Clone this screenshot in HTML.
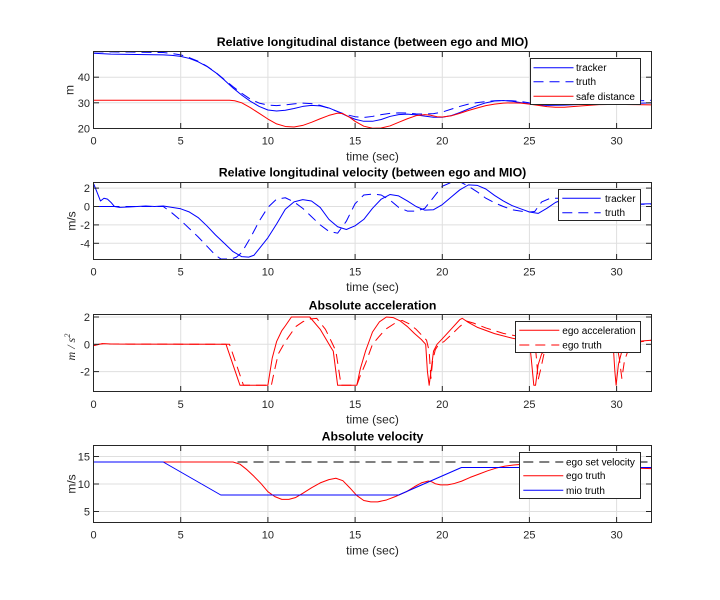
<!DOCTYPE html>
<html><head><meta charset="utf-8"><style>
html,body{margin:0;padding:0;background:#fff;}
svg{display:block;}
text{font-family:"Liberation Sans",Arial,sans-serif;}
.tk{font-size:11px;fill:#262626;}
.xl{font-size:12px;fill:#262626;}
.ti{font-size:12.3px;font-weight:bold;fill:#000;}
.lg{font-size:10px;fill:#000;}
.d{fill:none;stroke-width:1;vector-effect:non-scaling-stroke;stroke-linejoin:round;}
.grid line{stroke:#dfdfdf;stroke-width:1;}
.box{fill:none;stroke:#262626;stroke-width:1;}
.tick line{stroke:#262626;stroke-width:1;}
</style></head><body>
<svg width="720" height="600" viewBox="0 0 720 600" xmlns="http://www.w3.org/2000/svg">
<rect width="720" height="600" fill="#fff"/>
<defs>
<clipPath id="c1"><rect x="93.5" y="51.5" width="558" height="77"/></clipPath>
<clipPath id="c2"><rect x="93.5" y="182.5" width="558" height="77"/></clipPath>
<clipPath id="c3"><rect x="93.5" y="314.5" width="558" height="77"/></clipPath>
<clipPath id="c4"><rect x="93.5" y="445.5" width="558" height="77"/></clipPath>
</defs>

<!-- ============ PLOT 1 ============ -->
<g class="grid">
<line x1="180.7" y1="51.5" x2="180.7" y2="128.5"/><line x1="267.9" y1="51.5" x2="267.9" y2="128.5"/><line x1="355.1" y1="51.5" x2="355.1" y2="128.5"/><line x1="442.3" y1="51.5" x2="442.3" y2="128.5"/><line x1="529.4" y1="51.5" x2="529.4" y2="128.5"/><line x1="616.6" y1="51.5" x2="616.6" y2="128.5"/>
<line x1="93.5" y1="102.8" x2="651.5" y2="102.8"/><line x1="93.5" y1="77.2" x2="651.5" y2="77.2"/>
</g>
<g clip-path="url(#c1)">
<g transform="matrix(17.4375 0 0 -2.5667 93.5 179.833)">
<polyline class="d" stroke="#0000ff" points="0,49.3 1,49.0 2,48.9 3,48.8 4,48.7 4.5,48.5 5,48.1 5.5,47.3 6,46.0 6.5,44.2 7,41.8 7.5,38.9 8,35.8 8.5,33.0 9,30.6 9.5,28.6 10,27.2 10.5,26.8 11,27.1 11.5,27.8 12,28.6 12.5,29.0 13,28.8 13.5,28.0 14,26.6 14.5,25.0 15,23.6 15.5,22.8 16,22.8 16.5,23.5 17,24.7 17.5,25.4 18,25.6 18.5,25.3 19,24.8 19.5,24.4 20,24.4 20.5,25.0 21,26.2 21.5,27.6 22,28.9 22.5,30.0 23,30.7 23.5,30.9 24,30.6 24.5,30.1 25,29.6 25.5,29.2 26,29.0 27,29.1 28,29.4 29,29.6 30,29.7 31,29.8 32,30.0"/>
<polyline class="d" stroke="#0000ff" stroke-dasharray="10 6" points="0,49.9 2,49.8 4,49.6 4.5,49.2 5,48.7 5.5,47.6 6,46.2 6.5,44.3 7,41.9 7.5,39.1 8,36.3 8.5,33.7 9,31.4 9.5,29.9 10,29.1 10.5,28.9 11,29.2 11.5,29.6 12,29.9 12.5,29.7 13,29.0 13.5,27.9 14,26.6 14.5,25.4 15,24.6 15.5,24.3 16,24.7 16.5,25.4 17,25.9 17.5,26.1 18,26.0 18.5,25.7 19,25.6 19.5,25.8 20,26.4 20.5,27.5 21,28.6 21.5,29.5 22,30.1 22.5,30.5 23,30.8 23.5,30.9 24,30.8 24.5,30.5 25,30.0 25.5,29.6 26,29.4 27,29.4 28,29.7 29,30.1 30,30.4 31,30.7 32,31.0"/>
<polyline class="d" stroke="#ff0000" points="0,31.0 7.8,31.0 8.1,30.8 8.5,30.0 9,28.1 9.5,25.9 10,23.7 10.5,21.8 11,20.8 11.5,20.6 12,21.2 12.5,22.4 13,23.8 13.5,25.1 14,26.0 14.3,25.8 14.7,24.3 15,22.8 15.5,20.9 16,20.1 16.5,20.2 17,21.0 17.5,22.4 18,23.8 18.5,25.0 19,25.4 19.3,25.2 19.7,24.6 20,24.5 20.5,24.9 21,25.9 21.5,27.0 22,28.0 22.5,28.9 23,29.5 23.5,29.9 24,30.0 24.5,29.9 25,29.5 25.5,29.0 26,28.5 26.5,28.3 27,28.3 28,28.8 29,29.3 30,29.4 31,29.3 32,29.2"/>
</g></g>
<rect class="box" x="93.5" y="51.5" width="558" height="77"/>
<g class="tick">
<line x1="180.7" y1="128.5" x2="180.7" y2="123"/><line x1="267.9" y1="128.5" x2="267.9" y2="123"/><line x1="355.1" y1="128.5" x2="355.1" y2="123"/><line x1="442.3" y1="128.5" x2="442.3" y2="123"/><line x1="529.4" y1="128.5" x2="529.4" y2="123"/><line x1="616.6" y1="128.5" x2="616.6" y2="123"/>
<line x1="180.7" y1="51.5" x2="180.7" y2="57"/><line x1="267.9" y1="51.5" x2="267.9" y2="57"/><line x1="355.1" y1="51.5" x2="355.1" y2="57"/><line x1="442.3" y1="51.5" x2="442.3" y2="57"/><line x1="529.4" y1="51.5" x2="529.4" y2="57"/><line x1="616.6" y1="51.5" x2="616.6" y2="57"/>
<line x1="93.5" y1="102.8" x2="99" y2="102.8"/><line x1="93.5" y1="77.2" x2="99" y2="77.2"/>
<line x1="651.5" y1="102.8" x2="646" y2="102.8"/><line x1="651.5" y1="77.2" x2="646" y2="77.2"/>
</g>
<g class="tk" text-anchor="end">
<text x="90" y="132.5">20</text><text x="90" y="106.8">30</text><text x="90" y="81.2">40</text>
</g>
<g class="tk" text-anchor="middle">
<text x="93.5" y="144.3">0</text><text x="180.7" y="144.3">5</text><text x="267.9" y="144.3">10</text><text x="355.1" y="144.3">15</text><text x="442.3" y="144.3">20</text><text x="529.4" y="144.3">25</text><text x="616.6" y="144.3">30</text>
</g>
<text class="xl" x="372.5" y="160.5" text-anchor="middle">time (sec)</text>
<text class="xl" transform="translate(73.5,90) rotate(-90)" text-anchor="middle">m</text>
<text class="ti" x="372.5" y="46" text-anchor="middle">Relative longitudinal distance (between ego and MIO)</text>
<rect x="530.5" y="58.5" width="110" height="46" fill="#fff" stroke="#262626" stroke-width="1"/>
<line x1="533.5" y1="67.7" x2="573.5" y2="67.7" stroke="#0000ff" stroke-width="1"/>
<line x1="533.5" y1="81.7" x2="573.5" y2="81.7" stroke="#0000ff" stroke-width="1" stroke-dasharray="10 6"/>
<line x1="533.5" y1="96.3" x2="573.5" y2="96.3" stroke="#ff0000" stroke-width="1"/>
<text class="lg" x="576" y="71.2">tracker</text>
<text class="lg" x="576" y="85.2">truth</text>
<text class="lg" x="576" y="99.8">safe distance</text>

<!-- ============ PLOT 2 ============ -->
<g class="grid">
<line x1="180.7" y1="182.5" x2="180.7" y2="259.5"/><line x1="267.9" y1="182.5" x2="267.9" y2="259.5"/><line x1="355.1" y1="182.5" x2="355.1" y2="259.5"/><line x1="442.3" y1="182.5" x2="442.3" y2="259.5"/><line x1="529.4" y1="182.5" x2="529.4" y2="259.5"/><line x1="616.6" y1="182.5" x2="616.6" y2="259.5"/>
<line x1="93.5" y1="188.1" x2="651.5" y2="188.1"/><line x1="93.5" y1="206.5" x2="651.5" y2="206.5"/><line x1="93.5" y1="224.9" x2="651.5" y2="224.9"/><line x1="93.5" y1="243.3" x2="651.5" y2="243.3"/>
</g>
<g clip-path="url(#c2)">
<g transform="matrix(17.4375 0 0 -9.2 93.5 206.5)">
<polyline class="d" stroke="#0000ff" points="1.2,0 0,0 0,2.5 0.15,1.8 0.4,0.6 0.6,0.9 0.8,0.8 1.0,0.45 1.2,0.0 1.5,-0.1 2,-0.05 3,0.05 3.5,0.0 4,0.05 4.5,-0.1 5,-0.25 5.5,-0.6 6,-1.2 6.5,-2.1 7,-3.1 7.5,-4.0 8,-4.9 8.5,-5.45 8.9,-5.5 9.2,-5.3 9.5,-4.6 10,-3.4 10.5,-1.9 11,-0.3 11.5,0.5 12,0.75 12.5,0.6 13,-0.1 13.5,-1.4 14,-2.2 14.5,-2.5 15,-2.1 15.5,-1.4 16,-0.2 16.5,0.8 17,1.3 17.5,1.15 18,0.6 18.5,0.0 19,-0.4 19.5,-0.35 20,0.2 20.5,1.0 21,1.8 21.5,2.35 22,2.3 22.5,1.9 23,1.2 23.5,0.6 24,0.1 24.5,-0.25 25,-0.6 25.5,-0.75 26,-0.2 26.5,0.45 27,0.8 27.5,0.8 28,0.6 29,0.3 30,0.2 31,0.25 32,0.3"/>
<polyline class="d" stroke="#0000ff" stroke-dasharray="10 6" points="0,0 4,0 4.5,-0.7 5,-1.5 5.5,-2.4 6,-3.3 6.5,-4.3 7,-5.3 7.3,-5.7 7.9,-5.7 8.2,-5.5 8.5,-5.0 9,-3.4 9.5,-1.6 10,-0.1 10.5,0.8 11,0.95 11.5,0.5 12,-0.2 12.5,-1.1 13,-2.0 13.5,-2.7 14,-2.9 14.5,-1.6 15,0.3 15.5,1.25 16,1.35 16.5,1.25 17,0.7 17.5,-0.1 18,-0.5 18.5,-0.5 19,-0.2 19.5,1.0 20,2.2 20.5,2.6 21,2.7 21.5,2.2 22,1.6 22.5,0.9 23,0.4 23.5,0.0 24,-0.35 24.5,-0.5 25,-0.6 25.3,-0.55 25.7,0.5 26.2,0.9 26.8,0.9 27.5,0.6 28.5,0.3 30,0.2 32,0.25"/>
</g></g>
<rect class="box" x="93.5" y="182.5" width="558" height="77"/>
<g class="tick">
<line x1="180.7" y1="259.5" x2="180.7" y2="254"/><line x1="267.9" y1="259.5" x2="267.9" y2="254"/><line x1="355.1" y1="259.5" x2="355.1" y2="254"/><line x1="442.3" y1="259.5" x2="442.3" y2="254"/><line x1="529.4" y1="259.5" x2="529.4" y2="254"/><line x1="616.6" y1="259.5" x2="616.6" y2="254"/>
<line x1="180.7" y1="182.5" x2="180.7" y2="188"/><line x1="267.9" y1="182.5" x2="267.9" y2="188"/><line x1="355.1" y1="182.5" x2="355.1" y2="188"/><line x1="442.3" y1="182.5" x2="442.3" y2="188"/><line x1="529.4" y1="182.5" x2="529.4" y2="188"/><line x1="616.6" y1="182.5" x2="616.6" y2="188"/>
<line x1="93.5" y1="188.1" x2="99" y2="188.1"/><line x1="93.5" y1="206.5" x2="99" y2="206.5"/><line x1="93.5" y1="224.9" x2="99" y2="224.9"/><line x1="93.5" y1="243.3" x2="99" y2="243.3"/>
<line x1="651.5" y1="188.1" x2="646" y2="188.1"/><line x1="651.5" y1="206.5" x2="646" y2="206.5"/><line x1="651.5" y1="224.9" x2="646" y2="224.9"/><line x1="651.5" y1="243.3" x2="646" y2="243.3"/>
</g>
<g class="tk" text-anchor="end">
<text x="90" y="192.1">2</text><text x="90" y="210.5">0</text><text x="90" y="228.9">-2</text><text x="90" y="247.3">-4</text>
</g>
<g class="tk" text-anchor="middle">
<text x="93.5" y="275.3">0</text><text x="180.7" y="275.3">5</text><text x="267.9" y="275.3">10</text><text x="355.1" y="275.3">15</text><text x="442.3" y="275.3">20</text><text x="529.4" y="275.3">25</text><text x="616.6" y="275.3">30</text>
</g>
<text class="xl" x="372.5" y="291.2" text-anchor="middle">time (sec)</text>
<text class="xl" transform="translate(75.5,221) rotate(-90)" text-anchor="middle">m/s</text>
<text class="ti" x="372.5" y="176.7" text-anchor="middle">Relative longitudinal velocity (between ego and MIO)</text>
<rect x="558.5" y="189.5" width="82" height="31" fill="#fff" stroke="#262626" stroke-width="1"/>
<line x1="562.3" y1="198.3" x2="600.7" y2="198.3" stroke="#0000ff" stroke-width="1"/>
<line x1="562.3" y1="212.7" x2="600.7" y2="212.7" stroke="#0000ff" stroke-width="1" stroke-dasharray="10 6"/>
<text class="lg" x="605" y="201.8">tracker</text>
<text class="lg" x="605" y="216.2">truth</text>

<!-- ============ PLOT 3 ============ -->
<g class="grid">
<line x1="180.7" y1="314.5" x2="180.7" y2="391.5"/><line x1="267.9" y1="314.5" x2="267.9" y2="391.5"/><line x1="355.1" y1="314.5" x2="355.1" y2="391.5"/><line x1="442.3" y1="314.5" x2="442.3" y2="391.5"/><line x1="529.4" y1="314.5" x2="529.4" y2="391.5"/><line x1="616.6" y1="314.5" x2="616.6" y2="391.5"/>
<line x1="93.5" y1="317" x2="651.5" y2="317"/><line x1="93.5" y1="344.3" x2="651.5" y2="344.3"/><line x1="93.5" y1="371.6" x2="651.5" y2="371.6"/>
</g>
<g clip-path="url(#c3)">
<g transform="matrix(17.4375 0 0 -13.65 93.5 344.3)">
<polyline class="d" stroke="#ff0000" points="0,-0.1 0.3,0.0 0.6,0.05 1,0.02 7.6,0.0 8.4,-3.0 10.0,-3.0 10.25,-1.0 10.5,0.2 10.8,1.0 11.0,1.35 11.35,2.0 12.4,2.0 13.0,1.1 13.6,-0.2 13.75,-0.5 14.0,-3.0 15.1,-3.0 15.3,-1.8 15.6,-0.5 16.0,0.9 16.4,1.65 16.8,2.0 17.2,1.95 17.6,1.7 18.0,1.3 18.4,0.8 18.8,0.35 19.05,0.0 19.15,-2.0 19.25,-3.0 19.35,-2.0 19.5,-0.5 19.7,0.0 20,0.4 20.5,1.1 21,1.8 21.15,1.9 21.5,1.6 22,1.25 23,0.78 24,0.45 25.0,0.2 25.1,-1.0 25.25,-3.0 25.35,-3.0 25.5,-1.5 25.7,-0.7 26,-0.3 26.5,0.0 27.5,0.15 28.5,0.1 29.5,0.05 29.8,0.0 29.9,-2.0 29.97,-3.0 30.1,-1.5 30.3,-0.5 30.7,0.1 31.5,0.25 32,0.3"/>
<polyline class="d" stroke="#ff0000" stroke-dasharray="10 6" points="0,-0.1 0.5,0.05 1,0.02 7.8,0.0 8.6,-3.0 10.2,-3.0 10.4,-1.8 10.6,-0.7 11.0,0.2 11.6,1.3 12.0,1.65 12.4,1.85 12.8,1.9 13.3,1.1 13.7,0.05 13.9,-0.5 14.2,-3.0 15.1,-3.0 15.3,-2.3 15.6,-1.4 16.0,0.0 16.4,0.6 16.75,1.1 17.35,1.6 17.7,1.75 18.1,1.5 18.5,1.1 19.1,0.3 19.25,-0.5 19.35,-2.5 19.45,-1.2 19.6,-0.4 19.8,0.0 20.1,0.2 20.6,0.8 21.0,1.3 21.4,1.7 21.8,1.55 22.5,1.2 23.5,0.8 24.5,0.55 25.3,0.35 25.4,-1.0 25.5,-2.6 25.65,-1.8 25.85,-0.6 26.2,-0.2 27,0.1 28,0.15 29,0.1 30.0,0.05 30.15,-1.0 30.3,-2.5 30.45,-1.2 30.7,-0.3 31.2,0.15 32,0.3"/>
</g></g>
<rect class="box" x="93.5" y="314.5" width="558" height="77"/>
<g class="tick">
<line x1="180.7" y1="391.5" x2="180.7" y2="386"/><line x1="267.9" y1="391.5" x2="267.9" y2="386"/><line x1="355.1" y1="391.5" x2="355.1" y2="386"/><line x1="442.3" y1="391.5" x2="442.3" y2="386"/><line x1="529.4" y1="391.5" x2="529.4" y2="386"/><line x1="616.6" y1="391.5" x2="616.6" y2="386"/>
<line x1="180.7" y1="314.5" x2="180.7" y2="320"/><line x1="267.9" y1="314.5" x2="267.9" y2="320"/><line x1="355.1" y1="314.5" x2="355.1" y2="320"/><line x1="442.3" y1="314.5" x2="442.3" y2="320"/><line x1="529.4" y1="314.5" x2="529.4" y2="320"/><line x1="616.6" y1="314.5" x2="616.6" y2="320"/>
<line x1="93.5" y1="317" x2="99" y2="317"/><line x1="93.5" y1="344.3" x2="99" y2="344.3"/><line x1="93.5" y1="371.6" x2="99" y2="371.6"/>
<line x1="651.5" y1="317" x2="646" y2="317"/><line x1="651.5" y1="344.3" x2="646" y2="344.3"/><line x1="651.5" y1="371.6" x2="646" y2="371.6"/>
</g>
<g class="tk" text-anchor="end">
<text x="90" y="321">2</text><text x="90" y="348.3">0</text><text x="90" y="375.6">-2</text>
</g>
<g class="tk" text-anchor="middle">
<text x="93.5" y="407.8">0</text><text x="180.7" y="407.8">5</text><text x="267.9" y="407.8">10</text><text x="355.1" y="407.8">15</text><text x="442.3" y="407.8">20</text><text x="529.4" y="407.8">25</text><text x="616.6" y="407.8">30</text>
</g>
<text class="xl" x="372.5" y="423.6" text-anchor="middle">time (sec)</text>
<text transform="translate(75,347) rotate(-90)" text-anchor="middle" style="font-family:'Liberation Serif',serif;font-style:italic;font-size:12px;fill:#262626">m / s<tspan dy="-5" font-size="8.5">2</tspan></text>
<text class="ti" x="372.5" y="309.5" text-anchor="middle">Absolute acceleration</text>
<rect x="515.5" y="321.5" width="125" height="31" fill="#fff" stroke="#262626" stroke-width="1"/>
<line x1="519.3" y1="330.3" x2="559.3" y2="330.3" stroke="#ff0000" stroke-width="1"/>
<line x1="519.3" y1="345" x2="559.3" y2="345" stroke="#ff0000" stroke-width="1" stroke-dasharray="10 6"/>
<text class="lg" x="562.3" y="333.8">ego acceleration</text>
<text class="lg" x="562.3" y="348.5">ego truth</text>

<!-- ============ PLOT 4 ============ -->
<g class="grid">
<line x1="180.7" y1="445.5" x2="180.7" y2="522.5"/><line x1="267.9" y1="445.5" x2="267.9" y2="522.5"/><line x1="355.1" y1="445.5" x2="355.1" y2="522.5"/><line x1="442.3" y1="445.5" x2="442.3" y2="522.5"/><line x1="529.4" y1="445.5" x2="529.4" y2="522.5"/><line x1="616.6" y1="445.5" x2="616.6" y2="522.5"/>
<line x1="93.5" y1="456.5" x2="651.5" y2="456.5"/><line x1="93.5" y1="484" x2="651.5" y2="484"/><line x1="93.5" y1="511.5" x2="651.5" y2="511.5"/>
</g>
<g clip-path="url(#c4)">
<g transform="matrix(17.4375 0 0 -5.5 93.5 539)">
<polyline class="d" stroke="#000000" stroke-dasharray="10 6" points="0,14 32,14"/>
<polyline class="d" stroke="#ff0000" points="0,14 8.0,14 8.4,13.6 8.8,12.6 9.2,11.4 9.6,10.1 10.0,8.6 10.4,7.7 10.8,7.2 11.2,7.2 11.6,7.55 12.0,8.3 12.5,9.3 13.0,10.2 13.5,10.8 13.9,11.05 14.3,10.6 14.7,9.3 15.1,7.9 15.5,7.0 15.9,6.75 16.3,6.75 16.8,7.1 17.3,7.7 17.95,8.6 18.4,9.5 18.8,10.2 19.2,10.55 19.4,10.4 19.6,10.05 19.9,9.85 20.3,9.85 20.7,10.1 21.1,10.5 21.6,11.2 22.1,11.8 22.6,12.4 23.1,12.9 23.6,13.25 24.1,13.45 24.6,13.6 25.2,13.65 26,13.6 27,13.5 28,13.35 29,13.2 30,13.05 31,12.9 32,12.8"/>
<polyline class="d" stroke="#0000ff" points="0,14 4,14 7.3,8 17.5,8 21.1,13 32,13"/>
</g></g>
<rect class="box" x="93.5" y="445.5" width="558" height="77"/>
<g class="tick">
<line x1="180.7" y1="522.5" x2="180.7" y2="517"/><line x1="267.9" y1="522.5" x2="267.9" y2="517"/><line x1="355.1" y1="522.5" x2="355.1" y2="517"/><line x1="442.3" y1="522.5" x2="442.3" y2="517"/><line x1="529.4" y1="522.5" x2="529.4" y2="517"/><line x1="616.6" y1="522.5" x2="616.6" y2="517"/>
<line x1="180.7" y1="445.5" x2="180.7" y2="451"/><line x1="267.9" y1="445.5" x2="267.9" y2="451"/><line x1="355.1" y1="445.5" x2="355.1" y2="451"/><line x1="442.3" y1="445.5" x2="442.3" y2="451"/><line x1="529.4" y1="445.5" x2="529.4" y2="451"/><line x1="616.6" y1="445.5" x2="616.6" y2="451"/>
<line x1="93.5" y1="456.5" x2="99" y2="456.5"/><line x1="93.5" y1="484" x2="99" y2="484"/><line x1="93.5" y1="511.5" x2="99" y2="511.5"/>
<line x1="651.5" y1="456.5" x2="646" y2="456.5"/><line x1="651.5" y1="484" x2="646" y2="484"/><line x1="651.5" y1="511.5" x2="646" y2="511.5"/>
</g>
<g class="tk" text-anchor="end">
<text x="90" y="460.5">15</text><text x="90" y="488">10</text><text x="90" y="515.5">5</text>
</g>
<g class="tk" text-anchor="middle">
<text x="93.5" y="538.4">0</text><text x="180.7" y="538.4">5</text><text x="267.9" y="538.4">10</text><text x="355.1" y="538.4">15</text><text x="442.3" y="538.4">20</text><text x="529.4" y="538.4">25</text><text x="616.6" y="538.4">30</text>
</g>
<text class="xl" x="372.5" y="554.3" text-anchor="middle">time (sec)</text>
<text class="xl" transform="translate(75.5,484) rotate(-90)" text-anchor="middle">m/s</text>
<text class="ti" x="372.5" y="440.3" text-anchor="middle">Absolute velocity</text>
<rect x="519.5" y="452.5" width="121" height="46" fill="#fff" stroke="#262626" stroke-width="1"/>
<line x1="523.3" y1="462" x2="563.3" y2="462" stroke="#000" stroke-width="1" stroke-dasharray="10 6"/>
<line x1="523.3" y1="475.7" x2="563.3" y2="475.7" stroke="#ff0000" stroke-width="1"/>
<line x1="523.3" y1="490.3" x2="563.3" y2="490.3" stroke="#0000ff" stroke-width="1"/>
<text class="lg" x="566" y="465.5">ego set velocity</text>
<text class="lg" x="566" y="479.2">ego truth</text>
<text class="lg" x="566" y="493.8">mio truth</text>
</svg>
</body></html>
